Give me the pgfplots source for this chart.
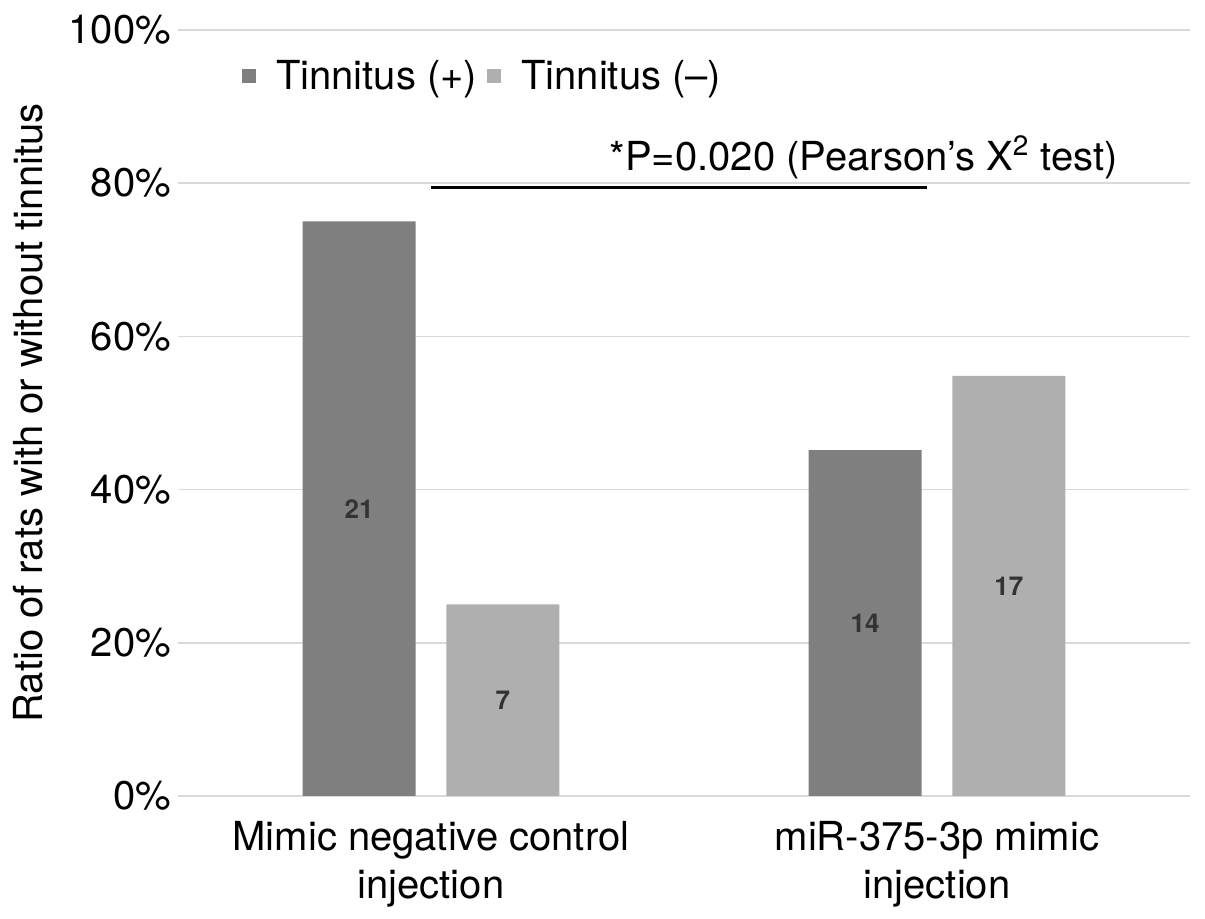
\documentclass[border=0pt]{standalone}
\usepackage{fontspec}
\setmainfont{TeX Gyre Heros}
\usepackage{pgfplots}
\pgfplotsset{compat=1.18}

\definecolor{barDark}{HTML}{7F7F7F}
\definecolor{barLight}{HTML}{AFAFAF}
\definecolor{gridGray}{HTML}{D9D9D9}
\definecolor{numText}{HTML}{333333}

\begin{document}
\begin{tikzpicture}
  \begin{axis}[
      scale only axis,
      width=506pt, height=383pt,
      xmin=-0.5, xmax=1.5,
      ymin=0, ymax=100,
      axis x line*=bottom,
      axis y line*=left,
      x axis line style={gridGray, line width=1pt},
      y axis line style={draw=none},
      ymajorgrids,
      grid style={gridGray, line width=0.8pt},
      ytick={0,20,40,60,80,100},
      yticklabel={\pgfmathprintnumber{\tick}\%},
      /pgf/number format/assume math mode=true,
      yticklabel style={font=\fontsize{20}{24}\selectfont},
      ytick style={draw=none},
      xtick={0,1},
      xticklabels={{Mimic negative control\\injection},{miR-375-3p mimic\\injection}},
      xticklabel style={align=center, font=\fontsize{20}{24}\selectfont, yshift=-5pt},
      xtick style={draw=none},
      ylabel={Ratio of rats with or without tinnitus},
      ylabel style={font=\fontsize{20}{24}\selectfont, yshift=6pt},
      ybar,
      bar width=0.223,
      point meta=explicit symbolic,
      visualization depends on={y \as \rawy},
      nodes near coords,
      every node near coord/.append style={anchor=center, font=\fontsize{13}{15}\selectfont\bfseries, text=numText, yshift=-1.915*\rawy pt},
      legend style={at={(0.057,0.94)}, anchor=west, draw=none, fill=none,
        legend columns=2, font=\fontsize{20}{24}\selectfont,
        /tikz/every even column/.append style={column sep=3pt}},
      legend image code/.code={\fill[#1, draw=none] (0pt,-3.5pt) rectangle (7pt,3.5pt); \path[draw=none, fill=none] (0pt,0pt) rectangle (15pt,0pt);},
    ]
    \addplot[fill=barDark, draw=none, bar shift=-0.142] coordinates {(0,75) [21] (1,45.16) [14]};
    \addplot[fill=barLight, draw=none, bar shift=0.142] coordinates {(0,25) [7] (1,54.84) [17]};
    \legend{Tinnitus (+), Tinnitus (–)}
    \draw[black, line width=1.5pt] (axis cs:0,79.4) -- (axis cs:0.98,79.4);
    \node[font=\fontsize{20}{24}\selectfont] at (axis cs:0.855,83.4) {*P=0.020 (Pearson’s X\textsuperscript{2} test)};
  \end{axis}
  \pgfresetboundingbox
  \path[use as bounding box] (-89pt,-61.5pt) rectangle (513.5pt,398pt);
\end{tikzpicture}
\end{document}
